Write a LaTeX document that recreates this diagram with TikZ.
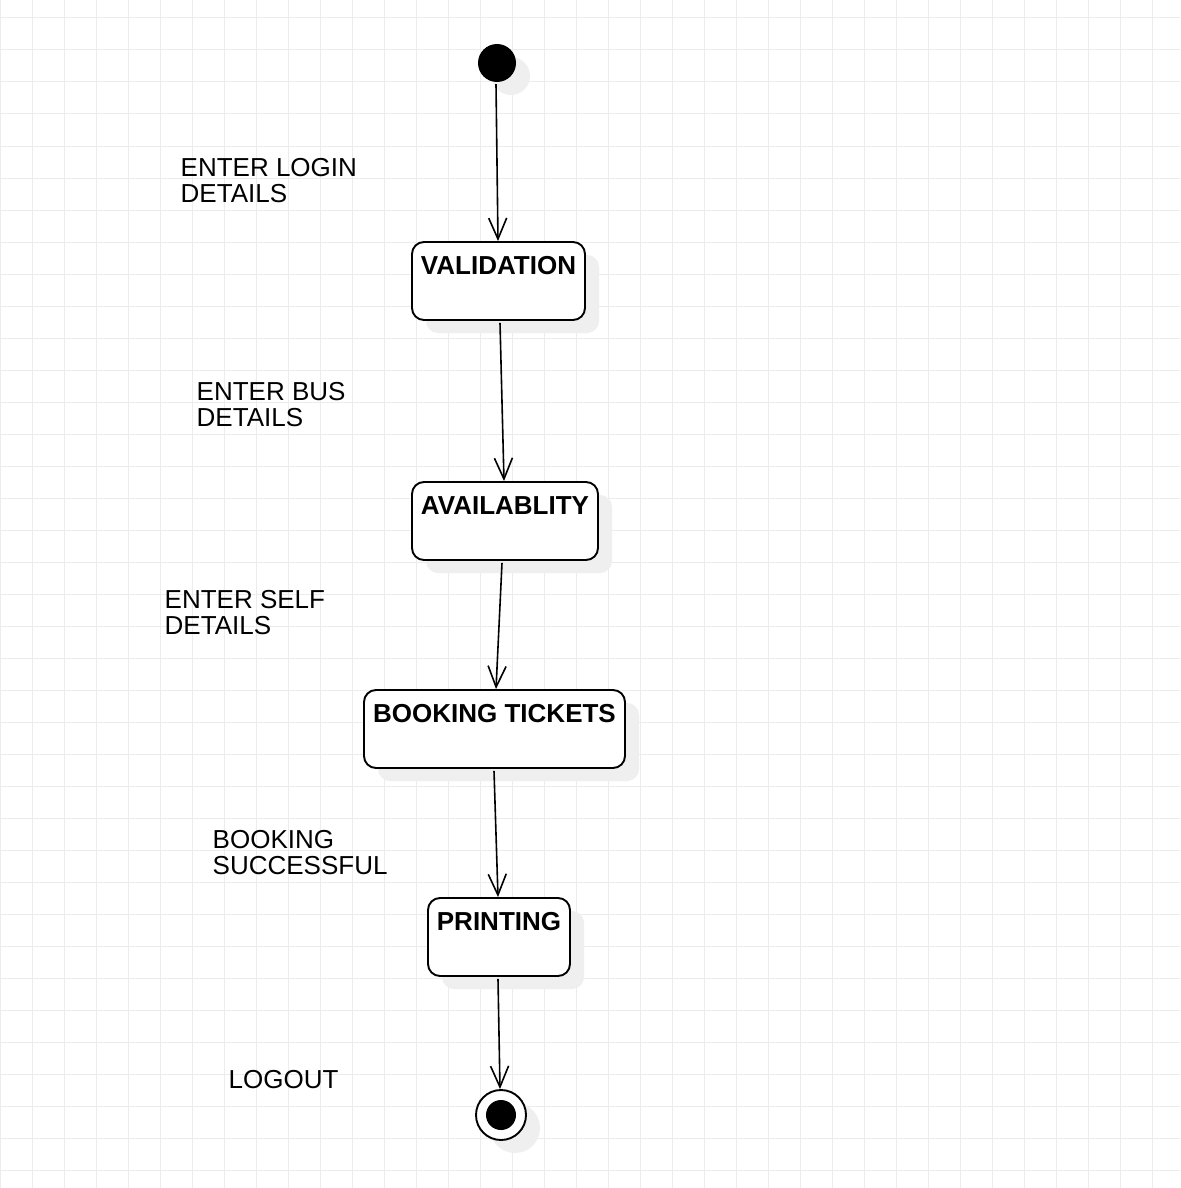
\documentclass[tikz,border=0pt]{standalone}
\usepackage{fontspec}
\setmainfont{Liberation Sans}
\usetikzlibrary{arrows.meta,shadows}
\definecolor{gridc}{HTML}{ECECEC}
\definecolor{shad}{HTML}{EFEFEF}
\begin{document}
\begin{tikzpicture}[x=1pt,y=-1pt,
  myshadow/.style={drop shadow={shadow xshift=14pt, shadow yshift=-13pt, fill=shad, opacity=1}},
  statebox/.style={draw, line width=1.9pt, rounded corners=12pt, fill=white,
    minimum height=78pt, inner sep=0pt, myshadow},
  boxtext/.style={anchor=north, inner sep=0pt, yshift=-15pt,
    font=\bfseries\fontsize{26}{26}\selectfont},
  lbl/.style={anchor=north west, inner sep=0pt, align=left,
    font=\fontsize{26}{26}\selectfont},
  conn/.style={line width=1.6pt, -{Straight Barb[length=21pt, width=18pt, line width=1.6pt]}}
]
\useasboundingbox (0,0) rectangle (1180,1188);
\fill[white] (0,0) rectangle (1180,1188);
\foreach \x in {0,32,...,1176} \draw[gridc, line width=1pt] (\x,0) -- (\x,1188);
\foreach \y in {18,50,...,1186} \draw[gridc, line width=1pt] (0,\y) -- (1180,\y);

% states
\node[circle, fill=black, minimum size=38pt, inner sep=0pt, myshadow] (init) at (497,63) {};
\node[statebox, minimum width=173pt, label={[boxtext]north:VALIDATION}] (val) at (498.5,281) {};
\node[statebox, minimum width=186pt, label={[boxtext]north:AVAILABLITY}] (avail) at (505,521) {};
\node[statebox, minimum width=261pt, label={[boxtext]north:BOOKING TICKETS}] (book) at (494.5,729) {};
\node[statebox, minimum width=142pt, label={[boxtext]north:PRINTING}] (print) at (499,937) {};
\node[circle, draw, line width=1.9pt, fill=white, minimum size=50pt, inner sep=0pt, myshadow] (fin) at (501,1115) {};
\node[circle, fill=black, minimum size=30pt, inner sep=0pt] (finin) at (501,1115) {};

% labels
\node[lbl] (l1) at (180.5,158) {ENTER LOGIN\\DETAILS};
\node[lbl] (l2) at (196.5,382) {ENTER BUS\\DETAILS};
\node[lbl] (l3) at (164.5,590) {ENTER SELF\\DETAILS};
\node[lbl] (l4) at (212.5,830) {BOOKING\\SUCCESSFUL};
\node[lbl] (l5) at (228.5,1070) {LOGOUT};

% transitions
\draw[conn] ([xshift=-1pt,yshift=-2pt]init.south) -- ([xshift=-0.5pt]val.north);
\draw[conn] ([xshift=1.5pt,yshift=-2pt]val.south) -- ([xshift=-1pt]avail.north);
\draw[conn] ([xshift=-3pt,yshift=-2pt]avail.south) -- ([xshift=1.5pt]book.north);
\draw[conn] ([xshift=-0.5pt,yshift=-2pt]book.south) -- ([xshift=-1pt]print.north);
\draw[conn] ([xshift=-1pt,yshift=-2pt]print.south) -- ([xshift=-1pt]fin.north);
\end{tikzpicture}
\end{document}
